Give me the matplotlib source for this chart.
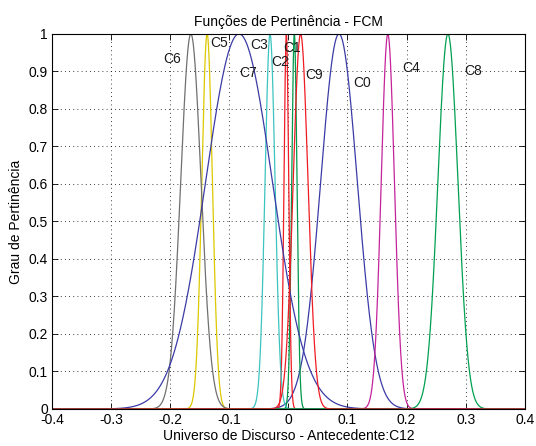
import numpy as np
import matplotlib

matplotlib.use("Agg")
import matplotlib.pyplot as plt
from matplotlib.ticker import MultipleLocator

# cluster membership functions (gaussian): centre and spread
clusters = ["C0", "C1", "C2", "C3", "C4", "C5", "C6", "C7", "C8", "C9"]
centers = [0.0857, 0.0101, -0.0034, -0.0310, 0.1683, -0.1375, -0.1650, -0.0835, 0.2700, 0.0207]
sigmas = [0.0310, 0.0045, 0.0040, 0.0085, 0.0112, 0.0090, 0.0172, 0.0565, 0.0170, 0.0125]

colors = ["#3B3BA6", "#00984A", "#EE1C24", "#3CC4C0", "#C4239A",
          "#DCC800", "#707070", "#3B3BA6", "#00A051", "#EE1C24"]
label_xy = [(0.125, 0.868), (0.007, 0.963), (-0.014, 0.924), (-0.049, 0.970), (0.208, 0.908),
            (-0.118, 0.977), (-0.196, 0.933), (-0.068, 0.896), (0.313, 0.900), (0.043, 0.890)]

plt.rcParams["font.family"] = ["Liberation Sans", "DejaVu Sans"]

fig = plt.figure(figsize=(5.36, 4.46), dpi=100)
ax = fig.add_axes([0.097, 0.083, 0.882, 0.841])

x = np.linspace(-0.4, 0.4, 4001)
for name, c, s, col, (tx, ty) in zip(clusters, centers, sigmas, colors, label_xy):
    y = np.exp(-0.5 * ((x - c) / s) ** 2)
    ax.plot(x, y, color=col, linewidth=0.9)
    ax.text(tx, ty, name, fontsize=10, ha="center", va="center", color="#1a1a1a")

ax.set_xlim(-0.4, 0.4)
ax.set_ylim(0, 1)
ax.xaxis.set_major_locator(MultipleLocator(0.1))
ax.yaxis.set_major_locator(MultipleLocator(0.1))
ax.xaxis.set_major_formatter(plt.FuncFormatter(lambda v, p: f"{v:g}" if abs(v) > 1e-9 else "0"))
ax.yaxis.set_major_formatter(plt.FuncFormatter(lambda v, p: f"{v:g}" if abs(v) > 1e-9 else "0"))
ax.grid(True, color="black", linestyle=(0, (1, 4)), linewidth=0.6)
ax.tick_params(axis="both", direction="in", top=True, right=True, length=4,
               width=0.6, labelsize=10, pad=3)
for spine in ax.spines.values():
    spine.set_linewidth(0.8)

ax.set_title("Funções de Pertinência - FCM", fontsize=10, pad=6)
ax.set_xlabel("Universo de Discurso - Antecedente:C12", fontsize=10, labelpad=1)
ax.set_ylabel("Grau de Pertinência", fontsize=10, labelpad=4)

fig.savefig("out.png", dpi=100)
